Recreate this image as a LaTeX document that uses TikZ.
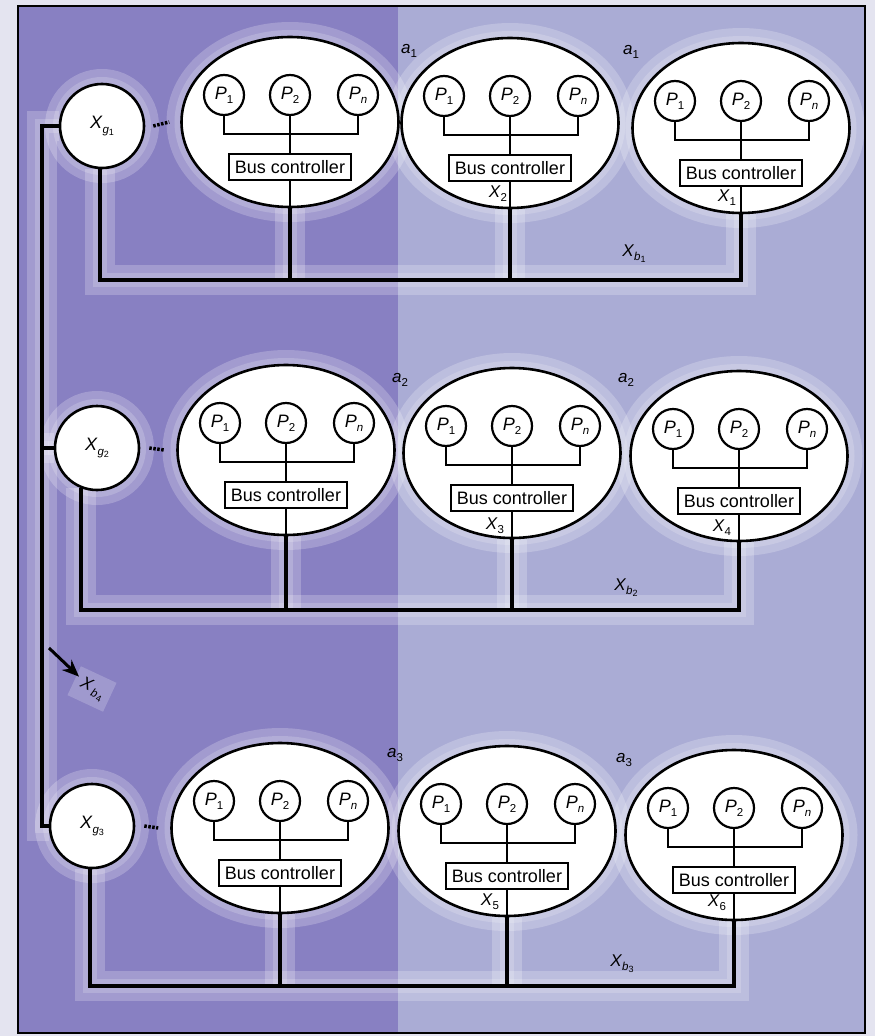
\documentclass[tikz,border=0pt]{standalone}
\usepackage{fontspec}
\setmainfont{Liberation Sans}
\usetikzlibrary{shapes.geometric,arrows.meta,calc}
\definecolor{outerbg}{RGB}{228,228,240}
\definecolor{leftbg}{RGB}{136,128,194}
\definecolor{rightbg}{RGB}{170,172,213}
\pgfdeclarelayer{bg}
\pgfsetlayers{bg,main}
\newcommand\sub[1]{\raisebox{-0.45ex}{\fontsize{11.5}{11.5}\selectfont #1}}
\newcommand\ssub[1]{\raisebox{-0.35ex}{\fontsize{9}{9}\selectfont #1}}
\newcommand\cluster[3]{%
  \node[ell] (e#1) at (#2,#3) {};
  \node[pc] (pa#1) at ($(e#1.center)+(-66,-27)$) {\textit{P}\sub{1}};
  \node[pc] (pb#1) at ($(e#1.center)+(0,-27)$) {\textit{P}\sub{2}};
  \node[pc] (pn#1) at ($(e#1.center)+(68,-27)$) {\textit{P}\sub{\textit{n}}};
  \node[bc] (b#1) at ($(e#1.center)+(0,45)$) {Bus controller};
  \coordinate (j#1) at ($(e#1.center)+(0,12)$);
  \draw[thinl] (pa#1.south) |- (j#1) -| (pn#1.south);
  \draw[thinl] (pb#1.south) -- (b#1.north);
  \draw[thinl] (b#1.south) -- (e#1.south);
}
\begin{document}
\begin{tikzpicture}[x=1pt,y=-1pt,
  ell/.style={ellipse, draw, fill=white, line width=2.6pt, minimum width=217pt, minimum height=170pt, inner sep=0pt},
  pc/.style={circle, draw, fill=white, line width=2.2pt, minimum size=40pt, inner sep=0pt, font=\fontsize{18}{18}\selectfont},
  bc/.style={rectangle, draw, fill=white, line width=2.2pt, minimum width=122pt, minimum height=26pt, inner sep=0pt, font=\fontsize{18}{18}\selectfont},
  xg/.style={circle, draw, fill=white, line width=2.6pt, minimum size=84pt, inner sep=0pt, font=\fontsize{18}{18}\selectfont},
  thinl/.style={line width=1.2pt},
  bus/.style={line width=4pt},
  lab/.style={font=\fontsize{17}{17}\selectfont, inner sep=1pt},
  halo/.style={draw=white, draw opacity=0.22, line width=30pt},
  halob/.style={draw=white, draw opacity=0.18, line width=14pt},
  dotsty/.style={line width=3.5pt, dash pattern=on 2.5pt off 1.5pt},
  arr/.style={line width=3pt, -{Stealth[length=17pt,width=14pt]}},
]
\useasboundingbox (0,0) rectangle (875,1036);

% group switches
\node[xg] (xg1) at (102,126) {\textit{X}\sub{\textit{g}\ssub{1}}};
\node[xg] (xg2) at (97,448) {\textit{X}\sub{\textit{g}\ssub{2}}};
\node[xg] (xg3) at (92,826) {\textit{X}\sub{\textit{g}\ssub{3}}};

% clusters
\cluster{1}{290}{122}
\cluster{2}{510}{123}
\cluster{3}{741}{128}
\cluster{4}{286}{450}
\cluster{5}{512}{453}
\cluster{6}{739}{456}
\cluster{7}{280}{828}
\cluster{8}{507}{831}
\cluster{9}{734}{835}

% dots between switch and first cluster
\draw[dotsty] ($(xg1.east)+(8,0)$) -- ($(e1.west)+(-11,0)$);
\draw[dotsty] ($(xg2.east)+(9,0)$) -- ($(e4.west)+(-12,0)$);
\draw[dotsty] ($(xg3.east)+(9,0)$) -- ($(e7.west)+(-12,0)$);

% bus rows
\coordinate (r1) at (0,280);
\coordinate (r2) at (0,610);
\coordinate (r3) at (0,986);
\draw[bus, save path=\busA] (xg1.267) |- (e3.south |- r1) -- (e3.south);
\draw[bus, save path=\busB] (e1.south) -- (e1.south |- r1) (e2.south) -- (e2.south |- r1);
\draw[bus, save path=\busC] (xg2.249) |- (e6.south |- r2) -- (e6.south);
\draw[bus, save path=\busD] (e4.south) -- (e4.south |- r2) (e5.south) -- (e5.south |- r2);
\draw[bus, save path=\busE] (xg3.267) |- (e9.south |- r3) -- (e9.south);
\draw[bus, save path=\busF] (e7.south) -- (e7.south |- r3) (e8.south) -- (e8.south |- r3);

% trunk
\coordinate (tTop) at (42,126);
\coordinate (tBot) at (42,826);
\draw[bus, save path=\busG] (xg1.west) -- (tTop) -- (tBot) -- (xg3.west);
\draw[bus, save path=\busH] (xg2.west) -- (xg2.west -| tTop);

% labels
\node[lab] (la1) at (409,51) {\textit{a}\sub{1}};
\node[lab] (lb1) at (631,52) {\textit{a}\sub{1}};
\node[lab] (la2) at (400,380) {\textit{a}\sub{2}};
\node[lab] (lb2) at (626,380) {\textit{a}\sub{2}};
\node[lab] (la3) at (395,755) {\textit{a}\sub{3}};
\node[lab] (lb3) at (624,760) {\textit{a}\sub{3}};

\node[lab] (x2) at ($(e2.center)+(-12,71)$) {\textit{X}\sub{2}};
\node[lab] (x1) at ($(e3.center)+(-14,70)$) {\textit{X}\sub{1}};
\node[lab] (x3) at ($(e5.center)+(-17,73)$) {\textit{X}\sub{3}};
\node[lab] (x4) at ($(e6.center)+(-17,72)$) {\textit{X}\sub{4}};
\node[lab] (x5) at ($(e8.center)+(-17,71)$) {\textit{X}\sub{5}};
\node[lab] (x6) at ($(e9.center)+(-17,68)$) {\textit{X}\sub{6}};

\node[lab] (xb1) at (634,254) {\textit{X}\sub{\textit{b}\ssub{1}}};
\node[lab] (xb2) at (626,588) {\textit{X}\sub{\textit{b}\ssub{2}}};
\node[lab] (xb3) at (622,964) {\textit{X}\sub{\textit{b}\ssub{3}}};

\node[lab, rotate=-25, fill=white, fill opacity=0.2, text opacity=1, inner sep=7pt] (xb4) at (92,689) {\textit{X}\kern1.5pt\sub{\textit{b}\kern0.5pt\ssub{4}}};
\coordinate (arrS) at (49,648);
\draw[arr, shorten >=-3pt] (arrS) -- (xb4);

% frame
\draw[line width=1.3pt] (18,6) rectangle (865,1033);

\begin{pgfonlayer}{bg}
  \fill[outerbg] (0,0) rectangle (875,1036);
  \fill[leftbg] (18,6) rectangle (398,1033);
  \fill[rightbg] (398,6) rectangle (865,1033);
  \foreach \st in {halo,halob}{
    \foreach \i in {1,...,9} \draw[\st] (e\i.center) ellipse [x radius=108.5pt, y radius=85pt];
    \foreach \i in {1,2,3} \draw[\st] (xg\i.center) circle [radius=42pt];
    \draw[\st, use path=\busA];
    \draw[\st, use path=\busB];
    \draw[\st, use path=\busC];
    \draw[\st, use path=\busD];
    \draw[\st, use path=\busE];
    \draw[\st, use path=\busF];
    \draw[\st, use path=\busG];
    \draw[\st, use path=\busH];
  }
\end{pgfonlayer}
\end{tikzpicture}
\end{document}
